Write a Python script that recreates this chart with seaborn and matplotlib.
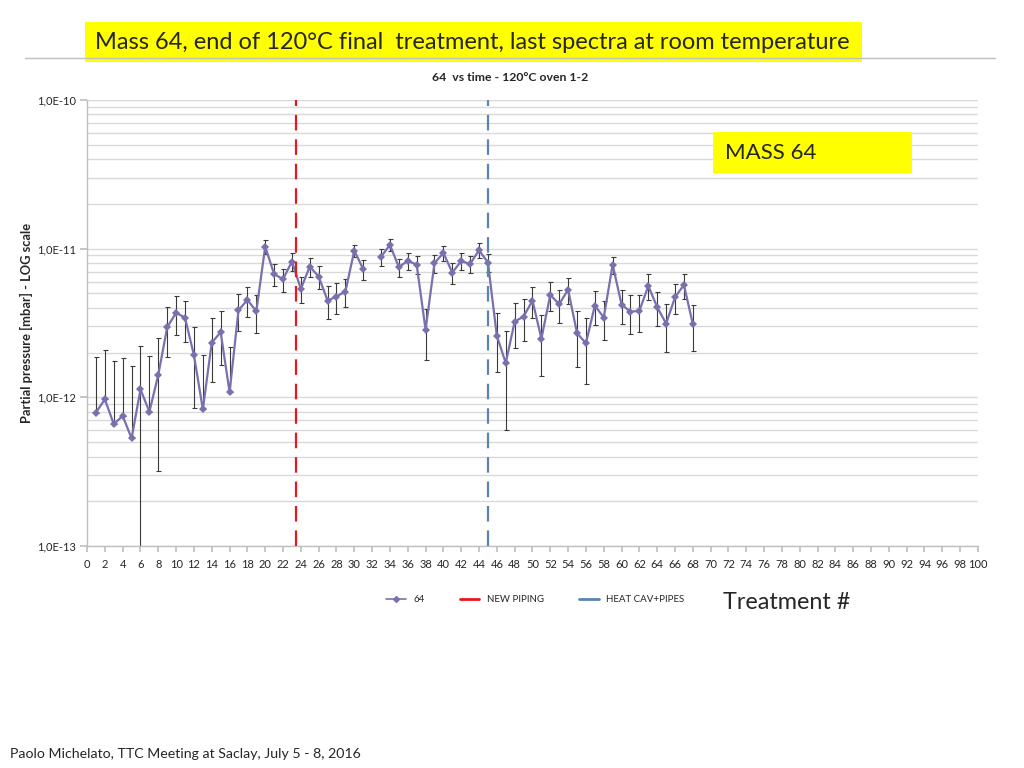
import numpy as np
import pandas as pd
import matplotlib
matplotlib.use("Agg")
import matplotlib.pyplot as plt
from matplotlib.lines import Line2D
from matplotlib.patches import Rectangle
from matplotlib.ticker import LogLocator, FuncFormatter, MultipleLocator, NullFormatter
import seaborn as sns

# treatment number
treatment = list(range(1, 69))

# partial pressure of mass 64, in units of 1E-12 mbar (nan = no spectrum)
pressure = [0.79, 0.97, 0.66, 0.75, 0.53, 1.13, 0.80, 1.42, 2.96, 3.71,
            3.42, 1.92, 0.83, 2.33, 2.74, 1.08, 3.85, 4.52, 3.79, 10.3,
            6.73, 6.23, 8.18, 5.36, 7.57, 6.48, 4.47, 4.76, 5.14, 9.69,
            7.27, np.nan, 8.80, 10.6, 7.50, 8.27, 7.80, 2.85, 7.98, 9.36,
            6.90, 8.23, 7.89, 9.75, 8.05, 2.59, 1.70, 3.23, 3.49, 4.47,
            2.48, 4.88, 4.23, 5.30, 2.70, 2.31, 4.14, 3.44, 7.80, 4.20,
            3.77, 3.81, 5.61, 4.04, 3.13, 4.71, 5.70, 3.10]

# error (same units, symmetric)
error = [1.08, 1.10, 1.09, 1.09, 1.10, 1.09, 1.10, 1.10, 1.09, 1.10,
         1.05, 1.07, 1.09, 1.07, 1.09, 1.11, 1.08, 1.03, 1.07, 1.08,
         1.09, 1.09, 1.10, 1.08, 1.08, 1.10, 1.09, 1.11, 1.10, 0.95,
         1.10, np.nan, 1.15, 1.00, 1.07, 1.10, 1.05, 1.08, 1.08, 1.10,
         1.10, 1.10, 1.08, 1.07, 1.10, 1.10, 1.10, 1.10, 1.10, 1.08,
         1.08, 1.06, 1.05, 1.08, 1.09, 1.09, 1.08, 1.03, 1.04, 1.07,
         1.09, 1.06, 1.12, 1.03, 1.10, 1.05, 1.09, 1.06]

# y axis decades
decades = [1e-13, 1e-12, 1e-11, 1e-10]

# events
new_piping = 23.5
heat_cav = 45

purple = "#7B6FAE"
red = "#E8161E"
blue = "#5B84B3"

df = pd.DataFrame({"treatment": treatment,
                   "p": np.array(pressure) * 1e-12,
                   "err": np.array(error) * 1e-12})
df["seg"] = np.cumsum(df["p"].isna())
df = df.dropna()

# Excel does not draw the lower bar when it would go below zero
lower = np.where(df["p"] - df["err"] > 0, df["err"], 0)

sns.set_theme(style="white")
plt.rcParams["font.family"] = ["Lato", "DejaVu Sans"]

fig = plt.figure(figsize=(10.24, 7.68), dpi=100)
ax = fig.add_axes([0.085, 0.289, 0.87, 0.581])

ax.errorbar(df["treatment"], df["p"], yerr=[lower, df["err"]], fmt="none",
            ecolor="#3a3a3a", elinewidth=0.8, capsize=1.8, capthick=0.8, zorder=2)

sns.lineplot(data=df, x="treatment", y="p", units="seg", estimator=None,
             color=purple, lw=1.6, marker="D", markersize=4,
             markeredgewidth=0, ax=ax, zorder=3)

ax.axvline(new_piping, color=red, lw=1.6, dashes=(7, 4), zorder=4)
ax.axvline(heat_cav, color=blue, lw=1.6, dashes=(7, 4), zorder=4)

ax.set_yscale("log")
ax.set_ylim(decades[0], decades[-1])
ax.set_xlim(0, 100)
ax.xaxis.set_major_locator(MultipleLocator(2))
ax.set_yticks(decades)
ax.yaxis.set_minor_locator(LogLocator(base=10, subs=np.arange(2, 10), numticks=10))
ax.yaxis.set_minor_formatter(NullFormatter())
ax.yaxis.set_major_formatter(FuncFormatter(lambda v, pos: "1,0E%d" % round(np.log10(v))))

ax.grid(True, which="both", axis="y", color="#D9D9D9", lw=1)
ax.set_axisbelow(True)
for s in ["top", "right"]:
    ax.spines[s].set_visible(False)
for s in ["left", "bottom"]:
    ax.spines[s].set_color("#BFBFBF")
    ax.spines[s].set_linewidth(1)

ax.tick_params(axis="x", which="major", bottom=True, length=4, color="#BFBFBF",
               labelsize=8, pad=5)
ax.tick_params(axis="y", which="major", left=True, length=5, color="#BFBFBF",
               labelsize=8, pad=3)
ax.tick_params(axis="y", which="minor", left=False)

ax.set_xlabel("")
ax.set_ylabel("Partial pressure [mbar] - LOG scale", fontsize=9.3,
              fontweight="bold", labelpad=3)

fig.text(0.498, 0.899, "64  vs time - 120°C oven 1-2", ha="center", va="center",
         fontsize=8.8, fontweight="bold")

# header
fig.add_artist(Line2D([0.024, 0.972], [0.9245, 0.9245], color="#BFBFBF", lw=1))
fig.add_artist(Rectangle((0.083, 0.919), 0.759, 0.052, facecolor="#FFFF00",
                         edgecolor="none"))
fig.text(0.093, 0.945, "Mass 64, end of 120°C final  treatment, last spectra at room temperature",
         ha="left", va="center", fontsize=17)

# MASS 64 box
fig.add_artist(Rectangle((0.696, 0.775), 0.195, 0.053, facecolor="#FFFF00",
                         edgecolor="none"))
fig.text(0.708, 0.801, "MASS 64", ha="left", va="center", fontsize=16)

# legend
handles = [Line2D([], [], color=purple, lw=1.2, marker="D", markersize=3),
           Line2D([], [], color=red, lw=2),
           Line2D([], [], color=blue, lw=2)]
fig.legend(handles, ["64", "NEW PIPING", "HEAT CAV+PIPES"], loc="center",
           bbox_to_anchor=(0.523, 0.219), ncol=3, frameon=False, fontsize=7,
           handlelength=2, columnspacing=3.6)

fig.text(0.706, 0.216, "Treatment #", ha="left", va="center", fontsize=16.8)

fig.text(0.01, 0.018, "Paolo Michelato, TTC Meeting at Saclay, July 5 - 8, 2016",
         ha="left", va="center", fontsize=10.2)

fig.savefig("out.png", dpi=100)
